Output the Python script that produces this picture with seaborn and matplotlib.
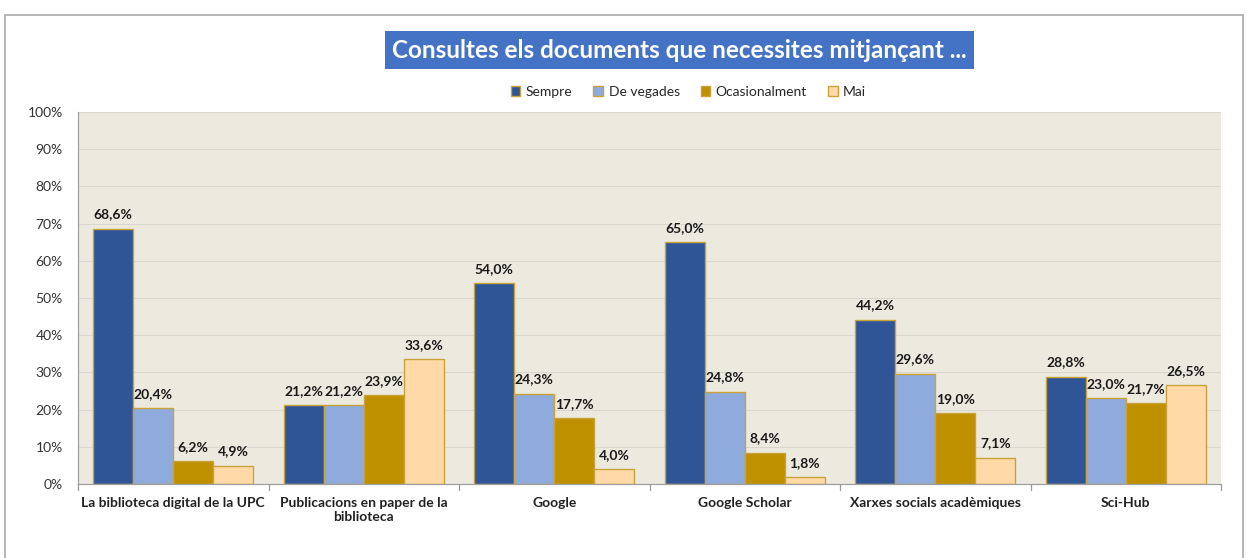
import pandas as pd
import matplotlib.pyplot as plt
import seaborn as sns
from matplotlib.patches import Rectangle

categories = [
    "La biblioteca digital de la UPC",
    "Publicacions en paper de la\nbiblioteca",
    "Google",
    "Google Scholar",
    "Xarxes socials acadèmiques",
    "Sci-Hub",
]
series = ["Sempre", "De vegades", "Ocasionalment", "Mai"]
sempre = [68.6, 21.2, 54.0, 65.0, 44.2, 28.8]
de_vegades = [20.4, 21.2, 24.3, 24.8, 29.6, 23.0]
ocasionalment = [6.2, 23.9, 17.7, 8.4, 19.0, 21.7]
mai = [4.9, 33.6, 4.0, 1.8, 7.1, 26.5]
y_ticks = [0, 10, 20, 30, 40, 50, 60, 70, 80, 90, 100]

colors = ["#2F5597", "#8FAADC", "#BF9000", "#FFDAA8"]

# taula llarga per a seaborn
rows = []
for name, vals in zip(series, [sempre, de_vegades, ocasionalment, mai]):
    for cat, v in zip(categories, vals):
        rows.append({"cat": cat, "serie": name, "val": v})
df = pd.DataFrame(rows)

sns.set_style("white")
plt.rcParams["font.family"] = ["Lato", "DejaVu Sans"]

fig = plt.figure(figsize=(12.46, 5.58), dpi=100)
ax = fig.add_axes([0.0626, 0.1326, 0.9174, 0.6667])

sns.barplot(
    data=df, x="cat", y="val", hue="serie",
    order=categories, hue_order=series,
    palette=colors, width=0.84, saturation=1,
    edgecolor="#C9A23A", linewidth=1.0, ax=ax,
)

ax.set_facecolor("#ECE9DF")
ax.set_ylim(0, 100)
ax.set_xlim(-0.5, len(categories) - 0.5)
ax.set_yticks(y_ticks)
ax.set_yticklabels([f"{t}%" for t in y_ticks], fontsize=10, color="#333333")
ax.set_xticks(range(len(categories)))
ax.set_xticklabels(categories, fontsize=10, fontweight="bold",
                   color="#222222", ha="center", multialignment="center")
ax.yaxis.grid(True, color="#DAD7CE", linewidth=0.8)
ax.set_axisbelow(True)
ax.set_xlabel("")
ax.set_ylabel("")
ax.tick_params(axis="y", length=5, color="#999999", pad=6)
ax.tick_params(axis="x", length=0, pad=9)

# marques entre grups
for b in range(len(categories) + 1):
    ax.plot([b - 0.5, b - 0.5], [0, -1.6], color="#999999", lw=0.9,
            clip_on=False)

for s in ["top", "right"]:
    ax.spines[s].set_visible(False)
for s in ["left", "bottom"]:
    ax.spines[s].set_color("#A0A0A0")
    ax.spines[s].set_linewidth(0.9)

for cont in ax.containers:
    labels = [f"{b.get_height():.1f}%".replace(".", ",") for b in cont]
    ax.bar_label(cont, labels=labels, padding=6, fontsize=10,
                 fontweight="bold", color="#1a1a1a")

leg = ax.legend(
    loc="lower center", bbox_to_anchor=(0.534, 1.005), ncol=4, frameon=False,
    fontsize=10, handlelength=0.7, handleheight=0.7, handletextpad=0.4,
    columnspacing=1.5,
)

# títol en caixa blava
fig.text(0.5453, 0.910, "Consultes els documents que necessites mitjançant ...",
         ha="center", va="center", fontsize=17.5, fontweight="bold",
         color="white",
         bbox=dict(boxstyle="square,pad=0.3", facecolor="#4472C4",
                   edgecolor="none"))

# vora exterior
fig.patches.append(Rectangle((0.004, -0.01), 0.9935, 0.9835,
                             transform=fig.transFigure, fill=False,
                             edgecolor="#AAAAAA", linewidth=1.2))

fig.savefig("out.png", dpi=100)
